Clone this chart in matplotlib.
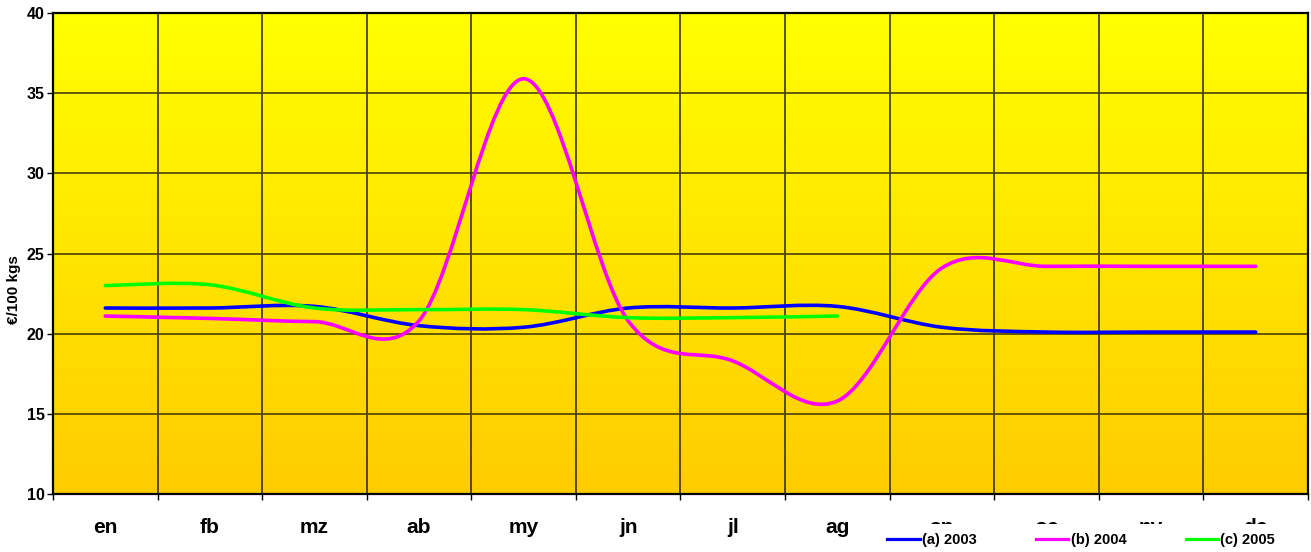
import numpy as np
import matplotlib
matplotlib.use('Agg')
import matplotlib.pyplot as plt
from matplotlib.path import Path
from matplotlib.patches import PathPatch
from matplotlib.lines import Line2D
from matplotlib.colors import LinearSegmentedColormap

plt.rcParams['font.family'] = ['Liberation Sans', 'DejaVu Sans']
plt.rcParams['font.weight'] = 'bold'

months = ['en', 'fb', 'mz', 'ab', 'my', 'jn', 'jl', 'ag', 'sp', 'oc', 'nv', 'dc']
v2003 = [21.6, 21.6, 21.7, 20.5, 20.4, 21.6, 21.6, 21.7, 20.4, 20.1, 20.1, 20.1]
v2004 = [21.1, 20.95, 20.75, 20.8, 35.9, 20.8, 18.3, 15.8, 24.1, 24.2, 24.2, 24.2]
v2005 = [23.0, 23.05, 21.6, 21.5, 21.5, 21.0, 21.0, 21.1]

series = [('(a) 2003', v2003, '#0000ff'),
          ('(b) 2004', v2004, '#ff00ff'),
          ('(c) 2005', v2005, '#00ff00')]


def smooth_path(vals):
    # excel style smoothed line: bezier through each point
    pts = np.column_stack([np.arange(len(vals)), vals]).astype(float)
    ext = np.vstack([pts[0], pts, pts[-1]])
    verts = [pts[0]]
    codes = [Path.MOVETO]
    for i in range(len(pts) - 1):
        p0, p1, p2, p3 = ext[i], ext[i + 1], ext[i + 2], ext[i + 3]
        verts += [p1 + (p2 - p0) / 6, p2 - (p3 - p1) / 6, p2]
        codes += [Path.CURVE4] * 3
    return Path(verts, codes)


fig = plt.figure(figsize=(13.11, 5.52), dpi=100)
ax = fig.add_axes([53 / 1311, 58 / 552, 1255 / 1311, 481 / 552])

n = len(months)
ax.set_xlim(-0.5, n - 0.5)
ax.set_ylim(10, 40)

cmap = LinearSegmentedColormap.from_list('bg', ['#ffcc00', '#ffff00'])
ax.imshow(np.linspace(0, 1, 256).reshape(-1, 1), extent=[-0.5, n - 0.5, 10, 40],
          aspect='auto', origin='lower', cmap=cmap, zorder=0)

ax.set_yticks(range(10, 41, 5))
ax.set_xticks(range(n))
ax.set_xticklabels(months, fontsize=15, fontweight='bold')
ax.set_xticks(np.arange(-0.5, n, 1), minor=True)
ax.tick_params(axis='x', which='major', length=0, pad=17)
ax.tick_params(axis='x', which='minor', length=4, width=1, direction='out')
ax.tick_params(axis='y', length=4, width=1, direction='out', pad=2, labelsize=11.5)
for lab in ax.get_yticklabels():
    lab.set_fontweight('bold')

ax.grid(True, axis='y', which='major', color='#4a3f00', lw=1.2, zorder=1)
ax.grid(True, axis='x', which='minor', color='#2a2400', lw=1.1, zorder=1)
ax.set_axisbelow(False)

for sp in ax.spines.values():
    sp.set_linewidth(1.6)
    sp.set_zorder(4)

handles = []
for label, vals, col in series:
    patch = PathPatch(smooth_path(vals), fill=False, edgecolor=col, lw=2.6,
                      capstyle='round', joinstyle='round', zorder=3)
    ax.add_patch(patch)
    handles.append(Line2D([], [], color=col, lw=2.3, label=label))

ax.set_ylabel('€/100 kgs', fontsize=11, fontweight='bold')
ax.yaxis.set_label_coords(-0.0255, 0.424)

leg = fig.legend(handles=handles, loc='center left', bbox_to_anchor=(878 / 1311, 1 - 540 / 552),
                 ncol=3, fontsize=10.5, frameon=True, facecolor='white', edgecolor='none',
                 fancybox=False, framealpha=1, borderpad=0.65, handlelength=2.2,
                 handletextpad=0.15, columnspacing=4.1, borderaxespad=0)
for t in leg.get_texts():
    t.set_fontweight('bold')

fig.savefig('out.png', dpi=100)
